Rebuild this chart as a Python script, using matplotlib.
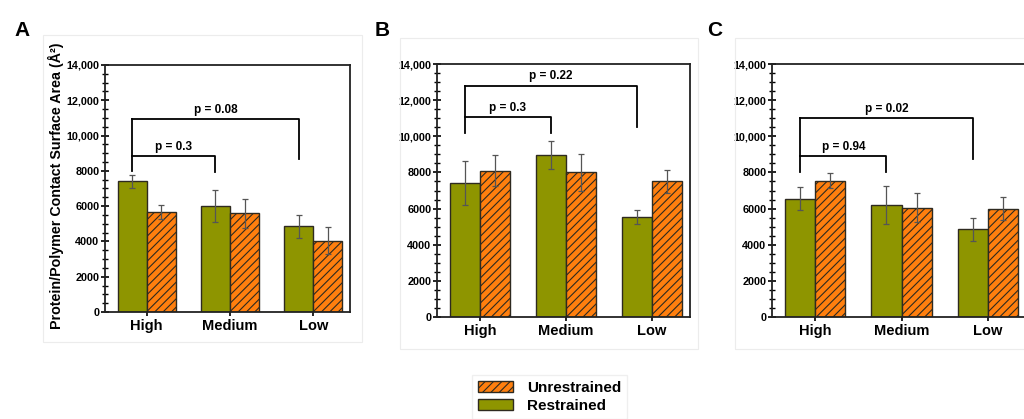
import numpy as np
import matplotlib
matplotlib.use('Agg')
import matplotlib.pyplot as plt
from matplotlib.patches import Patch, Rectangle
from matplotlib.ticker import MultipleLocator, FuncFormatter

plt.rcParams['font.family'] = ['Liberation Sans', 'DejaVu Sans']
plt.rcParams['font.weight'] = 'bold'
plt.rcParams['hatch.linewidth'] = 0.8

# категории и значения по панелям
categories = ['High', 'Medium', 'Low']
panels = ['A', 'B', 'C']

restrained_A = [7400, 6000, 4850]
restrained_A_err = [370, 900, 640]
unrestrained_A = [5650, 5600, 4050]
unrestrained_A_err = [390, 820, 740]

restrained_B = [7400, 8950, 5550]
restrained_B_err = [1220, 770, 380]
unrestrained_B = [8100, 8000, 7500]
unrestrained_B_err = [850, 1000, 650]

restrained_C = [6550, 6200, 4850]
restrained_C_err = [620, 1050, 620]
unrestrained_C = [7550, 6050, 6000]
unrestrained_C_err = [430, 790, 650]

# p-значения: High vs Medium, High vs Low
p_values_A = ['p = 0.3', 'p = 0.08']
p_values_B = ['p = 0.3', 'p = 0.22']
p_values_C = ['p = 0.94', 'p = 0.02']

green = '#8e9500'
orange = '#ff7f0e'
edge = '#2e2a20'

fig = plt.figure(figsize=(10.24, 4.19), dpi=100)
W, H = 1024, 419


def px_axes(left, top, right, bottom):
    return fig.add_axes([left / W, 1 - bottom / H, (right - left) / W, (bottom - top) / H])


# светло-серые рамки панелей
for (l, t, r, b) in [(43, 35, 362, 342), (400, 38, 698, 349), (735, 38, 1030, 349)]:
    fig.patches.append(Rectangle((l / W, 1 - b / H), (r - l) / W, (b - t) / H,
                                 transform=fig.transFigure, fill=False,
                                 edgecolor='#ececec', linewidth=0.8))

axes_px = [(105, 65, 350, 312), (437, 64, 690, 317), (772, 64, 1026, 317)]
data = [
    (restrained_A, restrained_A_err, unrestrained_A, unrestrained_A_err, p_values_A,
     (8850, 7950, 10950, 8650, 8000)),
    (restrained_B, restrained_B_err, unrestrained_B, unrestrained_B_err, p_values_B,
     (11050, 10200, 12800, 10500, 10200)),
    (restrained_C, restrained_C_err, unrestrained_C, unrestrained_C_err, p_values_C,
     (8900, 8000, 11000, 8750, 8000)),
]
label_x = [14, 375, 707]

x = np.arange(len(categories))
w = 0.35


def fmt(v, pos):
    v = int(round(v))
    return f'{v:,}' if v >= 10000 else str(v)


for i, (rect, (res, res_e, unr, unr_e, pv, br)) in enumerate(zip(axes_px, data)):
    ax = px_axes(*rect)
    ax.bar(x - w / 2, res, w, color=green, edgecolor=edge, linewidth=1.0, zorder=2)
    ax.bar(x + w / 2, unr, w, color=orange, edgecolor=edge, linewidth=1.0,
           hatch='////', zorder=2)
    ax.errorbar(x - w / 2, res, yerr=res_e, fmt='none', ecolor='#555555',
                elinewidth=0.9, capsize=2, capthick=0.9, zorder=3)
    ax.errorbar(x + w / 2, unr, yerr=unr_e, fmt='none', ecolor='#555555',
                elinewidth=0.9, capsize=2, capthick=0.9, zorder=3)

    # скобки сравнения между зелёными столбцами
    small_h, med_bot, big_h, low_bot, left_bot = br
    x0, x1, x2 = x[0] - w / 2, x[1] - w / 2, x[2] - w / 2
    ax.plot([x0, x0], [left_bot, big_h], color='black', lw=1.3, zorder=4)
    ax.plot([x0, x1, x1], [small_h, small_h, med_bot], color='black', lw=1.3, zorder=4)
    ax.plot([x0, x2, x2], [big_h, big_h, low_bot], color='black', lw=1.3, zorder=4)
    ax.text((x0 + x1) / 2, small_h + 180, pv[0], ha='center', va='bottom',
            fontsize=8.5, fontweight='bold')
    ax.text((x0 + x2) / 2, big_h + 180, pv[1], ha='center', va='bottom',
            fontsize=8.5, fontweight='bold')

    ax.set_ylim(0, 14000)
    ax.set_xlim(-0.5, 2.44)
    ax.yaxis.set_major_locator(MultipleLocator(2000))
    ax.yaxis.set_minor_locator(MultipleLocator(500))
    ax.yaxis.set_major_formatter(FuncFormatter(fmt))
    ax.set_xticks(x)
    ax.set_xticklabels(categories, fontsize=10.5, fontweight='bold')
    ax.tick_params(axis='y', which='major', direction='inout', length=6, width=1.2,
                   labelsize=7.8, pad=1)
    ax.tick_params(axis='y', which='minor', direction='inout', length=4, width=1.0)
    ax.tick_params(axis='x', direction='inout', length=6, width=1.2, pad=2)
    for s in ax.spines.values():
        s.set_linewidth(1.3)
        s.set_color('#222222')

    fig.text(label_x[i] / W, 1 - 30 / H, panels[i], fontsize=15, fontweight='bold',
             ha='left', va='center')

fig.text(56 / W, 1 - 186 / H, 'Protein/Polymer Contact Surface Area (Å²)',
         rotation=90, ha='center', va='center', fontsize=10.3, fontweight='bold')

handles = [Patch(facecolor=orange, edgecolor=edge, hatch='////', label='Unrestrained'),
           Patch(facecolor=green, edgecolor=edge, label='Restrained')]
leg = fig.legend(handles=handles, loc='upper left', bbox_to_anchor=(464 / W, 1 - 367 / H),
                 frameon=True, fancybox=False, edgecolor='#ececec', fontsize=11,
                 handlelength=2.3, handleheight=0.75, handletextpad=0.9,
                 labelspacing=0.28, borderpad=0.4)
for t in leg.get_texts():
    t.set_fontweight('bold')

fig.savefig('out.png', dpi=100)
